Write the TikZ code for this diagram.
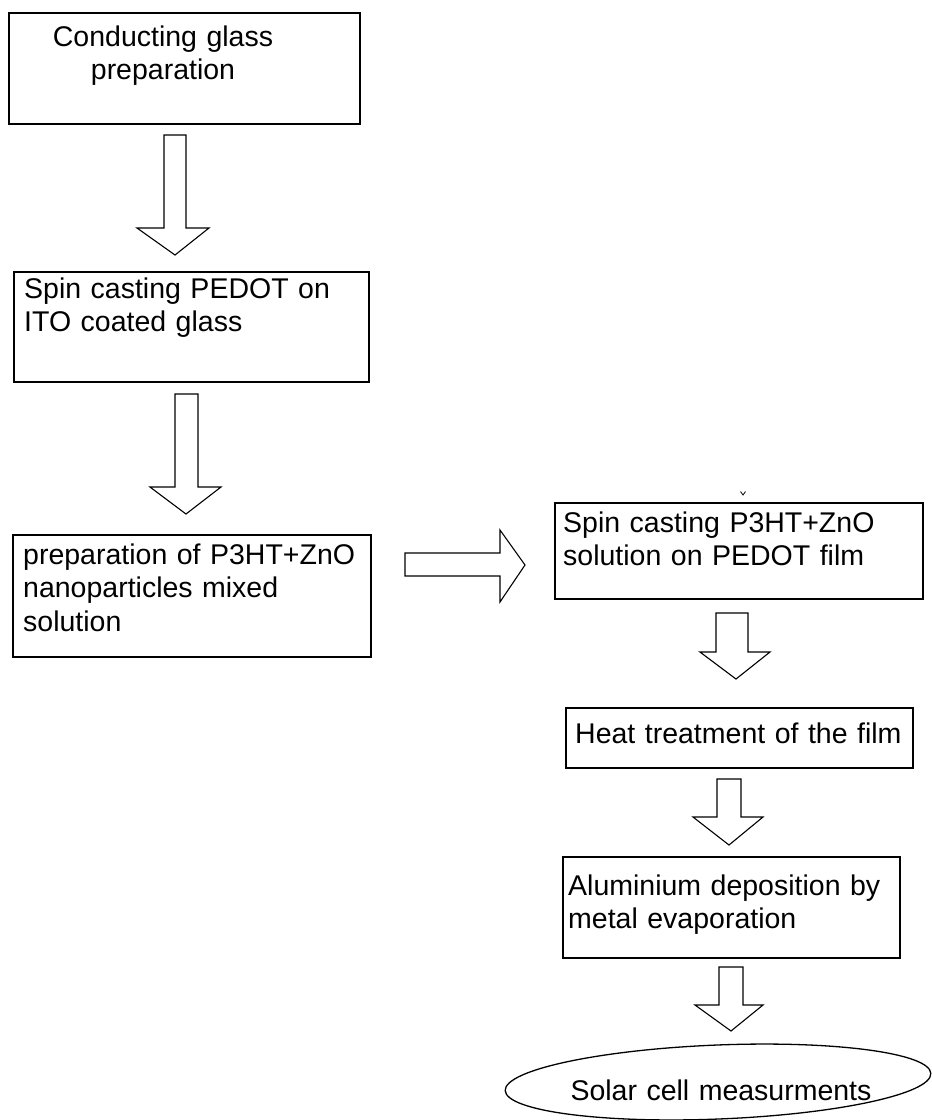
\documentclass[tikz,border=0pt]{standalone}
\usepackage{fontspec}
\setmainfont{Liberation Sans}
\usetikzlibrary{fit,shapes.geometric}
\newcommand{\blockdown}[8]{%
  \draw[blockarrow] (#1,#3) -- (#1,#4) -- (#5,#4) -- (#7,#8) -- (#6,#4) -- (#2,#4) -- (#2,#3) -- cycle;}
\begin{document}
\begin{tikzpicture}[x=1pt,y=-1pt,
  box/.style={draw=black,line width=1.5pt,inner sep=0pt,rectangle},
  txt/.style={inner sep=0pt,font={\fontsize{28.5}{33.5}\selectfont},text width=420pt,align=left,anchor=base west},
  blockarrow/.style={draw=black,line width=1.1pt,line join=miter,fill=white}]
\useasboundingbox (0,0) rectangle (932,1120);
\fill[white] (0,0) rectangle (932,1120);

% boxes
\node[box,fit={(9,13)(360,124)}] (b1) {};
\node[box,fit={(14,272)(369,382)}] (b2) {};
\node[box,fit={(13,535)(371,657)}] (b3) {};
\node[box,fit={(555,503)(923,599)}] (b4) {};
\node[box,fit={(566,708)(913,768)}] (b5) {};
\node[box,fit={(563,857)(900,958)}] (b6) {};
\node[draw=black,line width=1.3pt,ellipse,minimum width=426pt,minimum height=74pt,inner sep=0pt,rotate=2.3] (e1) at (718,1082) {};

% texts
\node[txt,text width=260pt,align=center,anchor=base] (t1) at (163,46) {Conducting glass\\preparation};
\node[txt] (t2) at (24,298) {Spin casting PEDOT on\\ITO coated glass};
\node[txt] (t3) at (23,564) {preparation of P3HT+ZnO\\nanoparticles mixed\\solution};
\node[txt] (t4) at (563,532) {Spin casting P3HT+ZnO\\solution on PEDOT film};
\node[txt] (t5) at (575,743) {Heat treatment of the film};
\node[txt] (t6) at (568,895) {Aluminium deposition by\\metal evaporation};
\node[txt,text width=320pt,align=center,anchor=base] (t7) at (721,1100) {Solar cell measurments};

% block arrows
\blockdown{164}{186}{135}{228}{137}{209}{175}{255}
\blockdown{175}{198}{394}{487}{150}{221}{186}{514}
\draw[blockarrow] (405,553) -- (500,553) -- (500,530) -- (525,565) -- (500,602) -- (500,576) -- (405,576) -- cycle;
\blockdown{716}{748}{613}{652}{700}{770}{736}{679}
\blockdown{717}{741}{779}{817}{693}{763}{729}{845}
\blockdown{719}{743}{967}{1005}{695}{763}{731}{1031}

% small stray mark above the fourth box
\draw[line width=0.8pt] (740.5,491.5) -- (743,495) -- (745.5,491.5);
\end{tikzpicture}
\end{document}
